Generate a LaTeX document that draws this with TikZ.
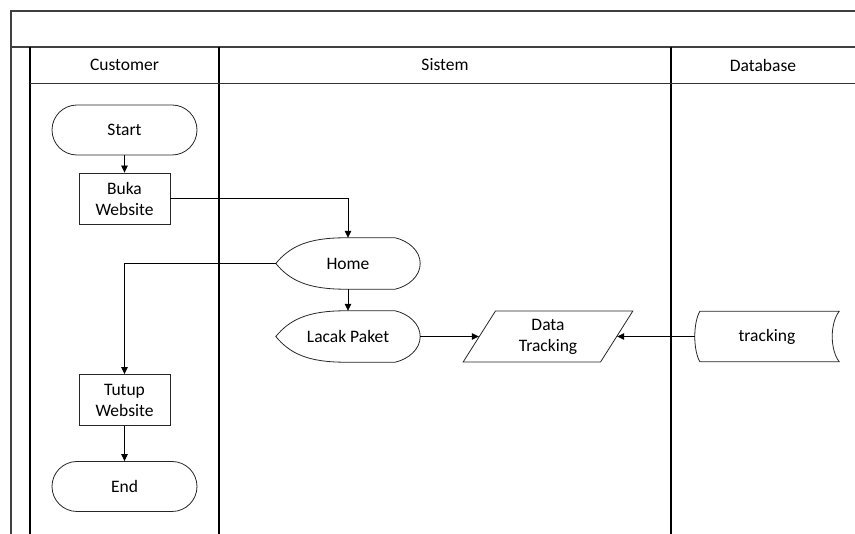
\documentclass[tikz,border=0pt]{standalone}
\usepackage{fontspec}
\setmainfont{Carlito}
\usetikzlibrary{arrows.meta,calc,shapes.geometric}

% outline of a "display" flowchart symbol around a plain node
\newcommand\displayoutline[1]{%
  \draw[shapeline] (#1.west)
    .. controls ($(#1.west)+(14,-17)$) and ($(#1.north)+(-40,0)$) .. ($(#1.north)+(-3,0)$)
    -- ($(#1.north east)+(-25,0)$)
    .. controls ($(#1.north east)+(-12,3)$) and ($(#1.east)+(0,-13)$) .. (#1.east)
    .. controls ($(#1.east)+(0,13)$) and ($(#1.south east)+(-12,-3)$) .. ($(#1.south east)+(-25,0)$)
    -- ($(#1.south)+(-3,0)$)
    .. controls ($(#1.south)+(-40,0)$) and ($(#1.west)+(14,17)$) .. (#1.west) -- cycle;}

% outline of a "stored data" symbol around a plain node
\newcommand\storedoutline[1]{%
  \draw[shapeline] ($(#1.north west)+(5,0)$) -- (#1.north east)
    .. controls ($(#1.north east)+(-9.3,12)$) and ($(#1.south east)+(-9.3,-12)$) .. (#1.south east)
    -- ($(#1.south west)+(5,0)$)
    .. controls ($(#1.south west)+(-1.7,-12)$) and ($(#1.north west)+(-1.7,12)$) .. ($(#1.north west)+(5,0)$) -- cycle;}

\begin{document}
\begin{tikzpicture}[x=1pt,y=-1pt,
  font=\fontsize{17.5}{21}\selectfont,
  frame/.style={draw=black!75, line width=1.6pt},
  lane/.style={draw=black, line width=1.1pt},
  shapeline/.style={draw=black!85, line width=0.8pt},
  flow/.style={draw=black, line width=0.8pt, -{Triangle[length=7pt,width=6.5pt]}},
  termbox/.style={shapeline, rectangle, rounded corners=25pt, minimum width=145pt,
    minimum height=50pt, inner sep=0pt},
  procbox/.style={shapeline, rectangle, minimum width=91pt, minimum height=51pt,
    inner sep=0pt, align=center},
  dispbox/.style={rectangle, minimum width=144pt, minimum height=51pt, inner sep=0pt},
  iobox/.style={shapeline, trapezium, trapezium left angle=63, trapezium right angle=117,
    trapezium stretches=true, minimum width=170pt, minimum height=51pt, inner sep=0pt,
    align=center},
  storebox/.style={rectangle, minimum width=144pt, minimum height=50pt, inner sep=0pt},
  headtext/.style={inner sep=0pt}
]
\useasboundingbox (0,0) rectangle (855,534);

% pool frame and title band
\draw[frame] (11,534) -- (11,11) -- (855,11);
\draw[frame] (11,47) -- (855,47);

% lanes
\draw[lane] (30,47) -- (30,534);
\draw[lane] (219,47) -- (219,534);
\draw[lane] (671,47) -- (671,534);
\draw[draw=black!80, line width=0.8pt] (30,83) -- (855,83);

\node[headtext] (hcust) at (124.5,65) {Customer};
\node[headtext] (hsis) at (445,65) {Sistem};
\node[headtext] (hdb) at (763,65) {Database};

% flow elements
\node[termbox] (start) at (124.5,130) {Start};
\node[procbox] (buka) at (124.5,198.5) {Buka\\Website};
\node[dispbox] (home) at (348,263.5) {Home};
\node[dispbox] (lacak) at (348,336.5) {Lacak Paket};
\node[iobox] (data) at (548,336.5) {Data\\Tracking};
\node[storebox] (trk) at (767,336.5) {tracking};
\node[procbox] (tutup) at (124.5,400) {Tutup\\Website};
\node[termbox] (finish) at (124.5,486.5) {End};

\displayoutline{home}
\displayoutline{lacak}
\storedoutline{trk}

% connectors
\draw[flow] (start) -- (buka);
\draw[flow] (buka.east) -| (home.north);
\draw[flow] (home) -- (lacak);
\draw[flow] (lacak) -- (data);
\draw[flow] (trk) -- (data);
\draw[flow] (home.west) -| (tutup.north);
\draw[flow] (tutup) -- (finish);
\end{tikzpicture}
\end{document}
